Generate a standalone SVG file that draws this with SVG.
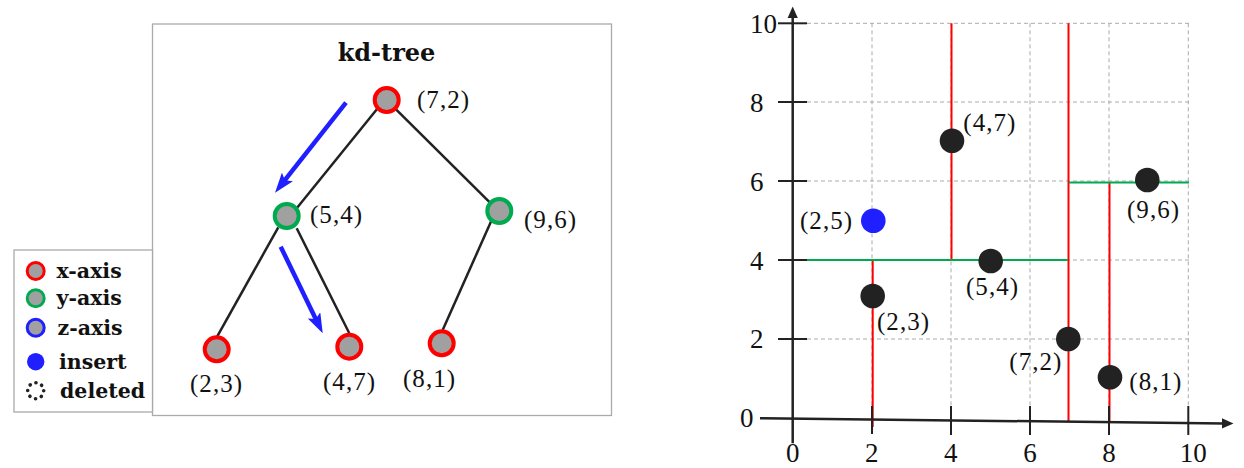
<svg xmlns="http://www.w3.org/2000/svg" width="1244" height="468" viewBox="0 0 1244 468">
<style>
.lbl{font-family:"Liberation Serif","Times New Roman",serif;font-size:25px;fill:#111}
.tick{font-family:"Liberation Serif","Times New Roman",serif;font-size:27px;fill:#111}
.bold{font-family:"DejaVu Serif",serif;font-weight:bold;fill:#111}
.node{fill:#a0a0a0;stroke-width:4}
.xn{stroke:#ff0000}
.yn{stroke:#00aa4f}
.edge{stroke:#222;stroke-width:2.5;fill:none}
.grid{stroke:#aaa;stroke-width:1;stroke-dasharray:4 3;fill:none}
.red{stroke:#ff0000;stroke-width:2}
.grn{stroke:#00aa4f;stroke-width:2.2}
.ax{stroke:#222;stroke-width:2.5;fill:none}
.tk{stroke:#222;stroke-width:2}
.pt{fill:#222}
.blue{stroke:#1f1fff;stroke-width:4.5;fill:none}
</style>
<defs>
<marker id="barrow" viewBox="0 0 20 14" refX="6" refY="7" markerWidth="20" markerHeight="14" markerUnits="userSpaceOnUse" orient="auto">
<path d="M0,0 L20,7 L0,14 L4,7 z" fill="#1f1fff"/>
</marker>
</defs>
<rect width="1244" height="468" fill="#fff"/>

<!-- tree panel -->
<rect x="152.5" y="24" width="459" height="391.5" fill="#fff" stroke="#aaa" stroke-width="1.3"/>
<text class="bold" x="386.5" y="60.5" font-size="24" text-anchor="middle">kd-tree</text>

<g id="connectors">
<line class="edge" x1="377.7" y1="108.3" x2="296.7" y2="208.3"/>
<line class="edge" x1="396" y1="109.3" x2="490" y2="202.7"/>
<line class="edge" x1="278.3" y1="227.3" x2="216.7" y2="337.3"/>
<line class="edge" x1="296.7" y1="228.3" x2="349.3" y2="333.3"/>
<line class="edge" x1="491.7" y1="220" x2="442.7" y2="330"/>
<line class="blue" x1="346" y1="102.7" x2="283.7" y2="181.7" marker-end="url(#barrow)"/>
<line class="blue" x1="280.7" y1="246.7" x2="316.6" y2="320.7" marker-end="url(#barrow)"/>
</g>

<g id="n72"><circle class="node xn" cx="386.7" cy="100" r="12"/><text class="lbl" x="417" y="107.5" textLength="52">(7,2)</text></g>
<g id="n54"><circle class="node yn" cx="286.7" cy="216" r="12"/><text class="lbl" x="310" y="222.5" textLength="52">(5,4)</text></g>
<g id="n96"><circle class="node yn" cx="499.3" cy="211" r="12"/><text class="lbl" x="524" y="227.5" textLength="52">(9,6)</text></g>
<g id="n23"><circle class="node xn" cx="216.7" cy="349.3" r="12"/><text class="lbl" x="190" y="391.5" textLength="52">(2,3)</text></g>
<g id="n47"><circle class="node xn" cx="349.3" cy="346.7" r="12"/><text class="lbl" x="323" y="390" textLength="52">(4,7)</text></g>
<g id="n81"><circle class="node xn" cx="441.7" cy="343.3" r="12"/><text class="lbl" x="403" y="387" textLength="52">(8,1)</text></g>

<!-- legend -->
<g id="legend">
<rect x="14" y="250" width="138.5" height="162" fill="#fff" stroke="#aaa" stroke-width="1.3"/>
<circle cx="35.7" cy="271" r="8.5" fill="#a0a0a0" stroke="#ff0000" stroke-width="3"/>
<circle cx="35.7" cy="298.3" r="8.5" fill="#a0a0a0" stroke="#00aa4f" stroke-width="3"/>
<circle cx="35.7" cy="327.7" r="8.5" fill="#a0a0a0" stroke="#1f1fff" stroke-width="3"/>
<circle cx="35.7" cy="361.7" r="8.7" fill="#1f1fff"/>
<circle cx="35.7" cy="390.7" r="8" fill="none" stroke="#222" stroke-width="3.6" stroke-linecap="round" stroke-dasharray="0.1 6.18"/>
<text class="bold" x="56.5" y="278" font-size="20.5">x-axis</text>
<text class="bold" x="56.5" y="305" font-size="20.5">y-axis</text>
<text class="bold" x="57.5" y="335" font-size="20.5">z-axis</text>
<text class="bold" x="59" y="369" font-size="20.5">insert</text>
<text class="bold" x="60" y="397.5" font-size="20.5">deleted</text>
</g>

<!-- plot -->
<g id="plot">
<g class="grid">
<line x1="872" y1="23.3" x2="872" y2="433"/>
<line x1="951" y1="23.3" x2="951" y2="433"/>
<line x1="1030" y1="23.3" x2="1030" y2="433"/>
<line x1="1109" y1="23.3" x2="1109" y2="433"/>
<line x1="1188.3" y1="23.3" x2="1188.3" y2="433"/>
<line x1="807" y1="23.3" x2="1189" y2="23.3"/>
<line x1="807" y1="102" x2="1189" y2="102"/>
<line x1="807" y1="181" x2="1189" y2="181"/>
<line x1="807" y1="260" x2="1189" y2="260"/>
<line x1="807" y1="339" x2="1189" y2="339"/>
</g>
<line class="red" x1="872.7" y1="260" x2="872.7" y2="427"/>
<line class="red" x1="951.5" y1="23.3" x2="951.5" y2="260"/>
<line class="red" x1="1068.5" y1="23.3" x2="1068.5" y2="421"/>
<line class="red" x1="1109.5" y1="182.5" x2="1109.5" y2="421"/>
<line class="grn" x1="807" y1="260" x2="1068" y2="260"/>
<line class="grn" x1="1069" y1="182.5" x2="1189" y2="182.5"/>

<line class="ax" x1="760" y1="418.3" x2="1224" y2="423.4"/>
<polygon points="1233.5,423.5 1222,418.3 1222,428.5" fill="#222"/>
<line class="ax" x1="792.7" y1="443.3" x2="792.7" y2="16"/>
<polygon points="792.7,6.5 787.6,18 797.8,18" fill="#222"/>

<g class="tk">
<line x1="778" y1="23.3" x2="807" y2="23.3"/>
<line x1="778" y1="102" x2="807" y2="102"/>
<line x1="778" y1="181" x2="807" y2="181"/>
<line x1="778" y1="260" x2="807" y2="260"/>
<line x1="778" y1="339" x2="807" y2="339"/>
<line x1="872" y1="406" x2="872" y2="434"/>
<line x1="951" y1="406" x2="951" y2="435"/>
<line x1="1030" y1="406" x2="1030" y2="435"/>
<line x1="1109" y1="406" x2="1109" y2="435"/>
<line x1="1188.3" y1="406" x2="1188.3" y2="435"/>
</g>

<text class="tick" x="750" y="33.3">10</text>
<text class="tick" x="750" y="111.7">8</text>
<text class="tick" x="750" y="190.7">6</text>
<text class="tick" x="750" y="270">4</text>
<text class="tick" x="750" y="348.3">2</text>
<text class="tick" x="740" y="426.7">0</text>
<g class="tick" text-anchor="middle">
<text x="792.7" y="462">0</text>
<text x="871.7" y="462">2</text>
<text x="950.7" y="462">4</text>
<text x="1030" y="462">6</text>
<text x="1109" y="462">8</text>
<text x="1193.3" y="462">10</text>
</g>

<circle class="pt" cx="952" cy="140.7" r="12.3"/>
<circle class="pt" cx="872.7" cy="296" r="12.3"/>
<circle class="pt" cx="990.7" cy="261" r="12.3"/>
<circle class="pt" cx="1147.3" cy="180" r="12.3"/>
<circle class="pt" cx="1068.3" cy="339" r="12.3"/>
<circle class="pt" cx="1110" cy="377.3" r="12.3"/>
<circle cx="873.3" cy="220.7" r="12.3" fill="#1f1fff"/>

<text class="lbl" x="963.3" y="130.7" textLength="52">(4,7)</text>
<text class="lbl" x="800" y="229.3" textLength="52">(2,5)</text>
<text class="lbl" x="1127" y="218.3" textLength="52">(9,6)</text>
<text class="lbl" x="966" y="295" textLength="52">(5,4)</text>
<text class="lbl" x="877" y="330" textLength="52">(2,3)</text>
<text class="lbl" x="1009.3" y="370" textLength="52">(7,2)</text>
<text class="lbl" x="1129.3" y="390" textLength="52">(8,1)</text>
</g>
</svg>
